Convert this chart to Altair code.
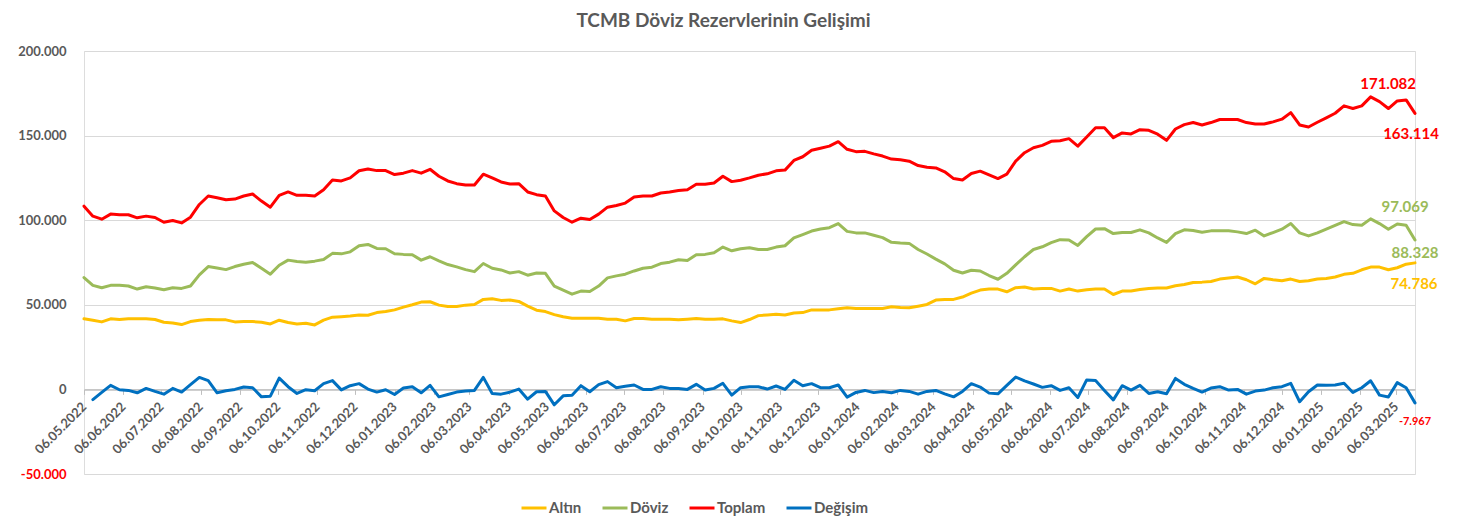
import altair as alt
import pandas as pd

# Weekly dates (Fridays) 06.05.2022 -> 21.03.2025
dates = pd.date_range("2022-05-06", periods=151, freq="7D").strftime("%Y-%m-%d").tolist()

series_names = ["Altın", "Döviz", "Toplam", "Değişim"]
series_colors = ["#FFC000", "#9BBB59", "#FF0000", "#0070C0"]

# values in billion USD (thousand million)
altin = [
    41.7, 40.9, 39.9, 41.7, 41.3, 41.7, 41.7, 41.7, 41.3, 39.7, 39.3, 38.3, 40.1, 40.9, 41.3, 41.1, 41.1, 39.9, 40.1, 40.1,
    39.7, 38.7, 40.9, 39.5, 38.7, 39.1, 38.1, 40.9, 42.7, 43.0,
    43.4, 44.0, 43.8, 45.4, 46.0, 47.0, 48.6, 50.0, 51.6, 51.8, 49.8, 49.0, 49.0, 49.8, 50.2, 53.2, 53.6, 52.6, 52.8, 52.0,
    49.2, 46.8, 46.0, 44.2, 42.9, 42.1, 42.1, 42.1, 42.1, 41.5,
    41.5, 40.5, 41.9, 41.9, 41.5, 41.5, 41.5, 41.1, 41.5, 41.9, 41.5, 41.5, 41.7, 40.5, 39.5, 41.3, 43.6, 44.0, 44.4, 44.0,
    45.2, 45.4, 47.0, 47.0, 47.0, 47.6, 48.2, 47.8, 47.8, 47.8,
    47.8, 48.8, 48.4, 48.2, 49.2, 50.2, 52.8, 53.2, 53.2, 54.6, 56.9, 58.7, 59.3, 59.3, 57.7, 60.1, 60.5, 59.3, 59.7, 59.7,
    58.1, 59.3, 58.1, 58.9, 59.3, 59.3, 56.1, 58.1, 58.1, 59.1,
    59.7, 59.9, 59.9, 61.3, 62.0, 63.2, 63.4, 63.8, 65.2, 65.8, 66.4, 64.8, 62.4, 65.6, 64.8, 64.2, 65.2, 63.8, 64.2, 65.2,
    65.6, 66.4, 68.0, 68.6, 70.7, 72.3, 72.3, 70.7, 71.9, 74.013, 74.786,
]
doviz = [
    66.1, 61.5, 60.1, 61.5, 61.5, 61.1, 59.3, 60.7, 59.9, 58.9, 60.1, 59.7, 61.1, 67.7, 72.6, 71.8, 70.8, 72.6, 74.0, 75.0,
    71.6, 68.1, 73.4, 76.4, 75.6, 75.2, 75.8, 76.8, 80.4, 80.1,
    81.3, 84.9, 85.7, 83.3, 83.1, 80.2, 79.8, 79.6, 76.4, 78.4, 76.0, 73.8, 72.4, 70.8, 69.6, 74.4, 71.6, 70.6, 68.8, 69.6,
    67.5, 68.8, 68.6, 61.1, 58.7, 56.3, 58.1, 57.9, 61.1, 65.9,
    67.1, 68.1, 70.0, 71.6, 72.2, 74.4, 75.2, 76.6, 76.2, 79.6, 79.8, 80.8, 84.1, 81.9, 83.1, 83.7, 82.7, 82.7, 84.1, 84.9,
    89.5, 91.5, 93.6, 94.8, 95.6, 98.0, 93.4, 92.5, 92.5, 91.1,
    89.7, 86.9, 86.5, 86.3, 82.7, 80.0, 77.0, 74.2, 70.4, 68.8, 70.4, 70.0, 67.3, 65.1, 68.6, 73.6, 78.4, 82.7, 84.3, 86.7,
    88.5, 88.3, 85.1, 90.3, 94.8, 95.0, 92.1, 92.7, 92.7, 94.3,
    92.5, 89.5, 86.9, 92.1, 94.3, 93.9, 92.9, 93.7, 93.7, 93.7, 93.1, 92.1, 94.1, 90.7, 92.7, 94.7, 98.0, 92.5, 90.7, 92.5,
    94.7, 97.0, 99.2, 97.4, 97.0, 100.8, 98.0, 94.7, 97.8, 97.069, 88.328,
]
toplam = [
    108.3, 102.4, 100.6, 103.6, 103.2, 103.2, 101.4, 102.4, 101.6, 98.8, 99.8, 98.4, 101.8, 109.3, 114.3, 113.3, 112.1,
    112.5, 114.3, 115.5, 111.3, 107.7, 114.7, 116.7, 114.7, 114.7, 114.3, 118.0, 123.8, 123.2,
    125.0, 129.2, 130.3, 129.3, 129.3, 127.0, 127.8, 129.3, 127.8, 130.1, 126.0, 123.2, 121.6, 120.8, 120.8, 127.2, 125.0,
    122.6, 121.4, 121.6, 116.7, 115.1, 114.3, 105.5, 101.6, 98.8, 101.2, 100.4, 103.6, 107.7,
    108.7, 110.1, 113.7, 114.3, 114.3, 116.1, 116.7, 117.5, 118.0, 121.2, 121.2, 122.0, 126.0, 122.8, 123.6, 125.0, 126.6,
    127.4, 129.2, 129.6, 135.3, 137.5, 141.3, 142.5, 143.8, 146.4, 141.9, 140.5, 140.7, 139.2,
    137.9, 136.1, 135.7, 134.9, 132.3, 131.3, 130.9, 128.6, 124.6, 123.8, 127.6, 129.0, 126.8, 124.6, 127.2, 134.9, 139.9,
    142.8, 144.2, 146.6, 147.0, 148.2, 143.8, 149.2, 154.6, 154.6, 148.8, 151.6, 151.0, 153.5,
    153.1, 150.8, 147.2, 153.9, 156.5, 157.7, 156.3, 157.7, 159.5, 159.5, 159.5, 157.7, 156.9, 156.9, 158.1, 159.7, 163.6,
    156.3, 155.1, 157.9, 160.5, 163.2, 167.6, 166.0, 167.6, 172.9, 170.1, 166.0, 170.5, 171.082, 163.114,
]
degisim = [
    None,
    -6.0, -1.8, 2.4, -0.2, -0.6, -2.0, 0.6, -1.2, -2.8, 0.6, -1.6, 2.8, 7.1, 5.2, -2.0, -0.8, 0.0, 1.4, 1.0, -4.4,
    -4.0, 6.7, 1.6, -2.4, -0.2, -0.8, 3.4, 5.2, -0.3,
    2.2, 3.4, 0.2, -1.6, -0.2, -3.0, 0.8, 1.6, -2.0, 2.4, -4.4, -3.0, -1.6, -1.0, -0.6, 7.1, -2.4, -2.8, -1.6, 0.2,
    -5.8, -1.4, -1.2, -9.1, -3.8, -3.4, 2.2, -1.4, 2.8, 4.6,
    1.0, 1.8, 2.6, 0.0, 0.0, 1.6, 0.6, 0.6, 0.0, 3.0, -0.4, 0.6, 3.6, -3.4, 1.0, 1.6, 1.6, 0.2, 2.0, 0.0,
    5.4, 2.2, 3.4, 1.0, 1.0, 2.6, -4.6, -1.8, -0.6, -1.9,
    -1.2, -2.0, -0.6, -1.2, -2.8, -1.2, -0.6, -2.6, -4.4, -1.2, 3.4, 1.4, -2.2, -2.6, 2.4, 7.3, 5.0, 3.2, 1.2, 2.2,
    -0.6, 1.0, -4.8, 5.6, 5.2, -0.6, -6.2, 2.2, -0.4, 2.4,
    -2.4, -1.4, -2.6, 6.5, 3.0, 0.6, -1.6, 0.8, 1.6, -0.4, 0.0, -2.8, -1.0, -0.4, 1.0, 1.6, 3.6, -7.3, -1.4, 2.6,
    2.4, 2.6, 3.6, -1.8, 1.0, 5.1, -3.4, -4.5, 4.0, 1.0, -7.967,
]
assert len(altin) == len(doviz) == len(toplam) == len(degisim) == len(dates) == 151

y_ticks = [-50, 0, 50, 100, 150, 200]
x_tick_months = [(2022, m) for m in range(5, 13)] + [(2023, m) for m in range(1, 13)] + \
                [(2024, m) for m in range(1, 13)] + [(2025, m) for m in range(1, 4)]

df = pd.DataFrame({"tarih": dates, "Altın": altin, "Döviz": doviz, "Toplam": toplam, "Değişim": degisim})
long = df.melt("tarih", var_name="seri", value_name="deger").dropna()

# end-of-series labels (last two weeks)
lab_rows = []
for name, arr in [("Altın", altin), ("Döviz", doviz), ("Toplam", toplam), ("Değişim", degisim)]:
    for i in (149, 150):
        v = arr[i]
        txt = f"{round(v * 1000):,}".replace(",", ".")
        lab_rows.append({"tarih": dates[i], "deger": v, "seri": name, "idx": i, "txt": txt})
labels = pd.DataFrame(lab_rows)

GRAY = "#595959"
FONT = "Lato"

xscale = alt.Scale(type="utc", domain=[alt.DateTime(year=2022, month=5, date=6, utc=True),
                                       alt.DateTime(year=2025, month=3, date=21, utc=True)], nice=False)
yscale = alt.Scale(domain=[-50, 200], nice=False)

x_axis = alt.Axis(
    values=[alt.DateTime(year=y, month=m, date=6, utc=True) for (y, m) in x_tick_months],
    labelExpr="utcFormat(datum.value, '%d.%m.%Y')",
    labelAngle=-45, labelAlign="right", labelBaseline="middle",
    labelFont=FONT, labelFontSize=13, labelFontWeight="bold", labelColor=GRAY,
    labelPadding=10, labelOverlap=False, labelFlush=False, labelBound=False,
    offset=-84.6, grid=False, domainColor="#bfbfbf", domainWidth=1.5,
    tickColor="#bfbfbf", tickSize=5, title=None,
)
y_axis = alt.Axis(
    values=y_ticks,
    labelExpr="(datum.value < 0 ? '-' : '') + replace(format(abs(datum.value) * 1000, ',.0f'), ',', '.')",
    labelFont=FONT, labelFontSize=13, labelFontWeight="bold",
    labelColor={"condition": {"test": "datum.value < 0", "value": "#FF0000"}, "value": GRAY},
    labelPadding=18, domain=False, ticks=False, grid=True, gridColor="#d9d9d9", gridWidth=1, title=None,
)

base = alt.Chart(long)
lines = base.mark_line(strokeWidth=3, strokeJoin="round", strokeCap="round").encode(
    x=alt.X("tarih:T", scale=xscale, axis=x_axis),
    y=alt.Y("deger:Q", scale=yscale, axis=y_axis),
    color=alt.Color("seri:N", scale=alt.Scale(domain=series_names, range=series_colors),
                    sort=series_names,
                    legend=alt.Legend(orient="none", legendX=436, legendY=443, direction="horizontal",
                                      symbolType="stroke", symbolStrokeWidth=3, symbolSize=625,
                                      labelFont=FONT, labelFontSize=15, labelFontWeight="bold",
                                      labelColor=GRAY, labelOffset=1, columnPadding=14, title=None)),
)

def lab_layer(series, idx, color, dx, dy, size=15):
    return alt.Chart(labels).transform_filter(
        (alt.datum.seri == series) & (alt.datum.idx == idx)
    ).mark_text(color=color, dx=dx, dy=dy, fontSize=size, font=FONT, fontWeight="bold",
                align="center", baseline="middle").encode(
        x=alt.X("tarih:T", scale=xscale, axis=x_axis),
        y=alt.Y("deger:Q", scale=yscale, axis=y_axis),
        text="txt:N")

texts = [
    lab_layer("Toplam", 149, "#FF0000", -18, -16),
    lab_layer("Toplam", 150, "#FF0000", -4, 21),
    lab_layer("Döviz", 149, "#9BBB59", -1, -18),
    lab_layer("Döviz", 150, "#9BBB59", 0, 13),
    lab_layer("Altın", 150, "#FFC000", -1, 21),
    lab_layer("Değişim", 150, "#FF0000", 0, 19, size=11),
]

chart = alt.layer(lines, *texts).properties(
    width=1331, height=423,
    padding={"left": 76, "top": 43, "right": 38, "bottom": 48},
    autosize=alt.AutoSizeParams(type="none"),
    title=alt.TitleParams("TCMB Döviz Rezervlerinin Gelişimi", font=FONT, fontSize=19, fontWeight="bold",
                          color=GRAY, anchor="middle", dx=-26, offset=14),
).configure_view(stroke=None).configure(background="white")

chart.save("out.html", embed_options={"renderer": "svg", "actions": False})
